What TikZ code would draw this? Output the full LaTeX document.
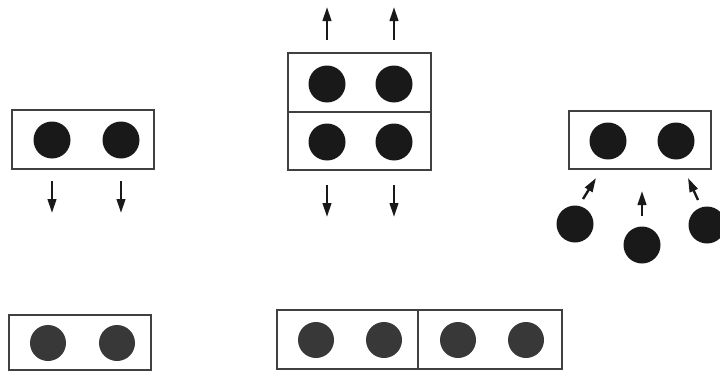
\documentclass[tikz,border=0pt]{standalone}
\usepackage{color}
\usepackage{tikz}
\usetikzlibrary{arrows.meta}
\definecolor{inkdark}{gray}{0.1}
\definecolor{inklight}{gray}{0.22}
\definecolor{boxline}{gray}{0.25}
\tikzset{
  particle/.style={circle,fill=inkdark,minimum size=37pt,inner sep=0pt},
  oldparticle/.style={particle,fill=inklight,minimum size=36pt},
  cell/.style={draw=boxline,line width=1.1pt},
  move/.style={draw=black!90,line width=2.4pt,-{Triangle[length=14pt,width=8.5pt]}}
}
\begin{document}
\begin{tikzpicture}[x=1pt,y=-1pt]
\useasboundingbox (0,0) rectangle (720,372);
% objects at depth 100:
\path[cell] (12,110) rectangle (154,169);
\path[cell] (288,53) rectangle (431,112);
\path[cell] (288,112) rectangle (431,170);
\path[cell] (569,111) rectangle (711,169);
\path[cell] (9,315) rectangle (151,370);
\path[cell] (277,310) rectangle (418,369);
\path[cell] (418,310) rectangle (562,369);
% objects at depth 50:
\node[particle] (a1) at (52,140) {};
\node[particle] (a2) at (121,140) {};
\node[particle] (b1) at (327,84) {};
\node[particle] (b2) at (394,84) {};
\node[particle] (b3) at (327,142) {};
\node[particle] (b4) at (394,142) {};
\node[particle] (c1) at (608,141) {};
\node[particle] (c2) at (676,141) {};
\node[particle] (c3) at (575,224) {};
\node[particle] (c4) at (642,245) {};
\node[particle] (c5) at (707,225) {};
\node[oldparticle] (d1) at (48,343) {};
\node[oldparticle] (d2) at (117,343) {};
\node[oldparticle] (e1) at (316,340) {};
\node[oldparticle] (e2) at (384,340) {};
\node[oldparticle] (e3) at (458,340) {};
\node[oldparticle] (e4) at (526,340) {};
% objects at depth 0:
\coordinate (a1s) at (52,181);  \coordinate (a1e) at (52,213);
\coordinate (a2s) at (121,181); \coordinate (a2e) at (121,213);
\coordinate (b1s) at (327,40);  \coordinate (b1e) at (327,7);
\coordinate (b2s) at (394,40);  \coordinate (b2e) at (394,7);
\coordinate (b3s) at (327,185); \coordinate (b3e) at (327,217);
\coordinate (b4s) at (394,185); \coordinate (b4e) at (394,217);
\coordinate (c3s) at (583,199); \coordinate (c3e) at (596,178);
\coordinate (c4s) at (642,216); \coordinate (c4e) at (642,191);
\coordinate (c5s) at (698,200); \coordinate (c5e) at (688,178);
\draw[move] (a1s) -- (a1e);
\draw[move] (a2s) -- (a2e);
\draw[move] (b1s) -- (b1e);
\draw[move] (b2s) -- (b2e);
\draw[move] (b3s) -- (b3e);
\draw[move] (b4s) -- (b4e);
\draw[move] (c3s) -- (c3e);
\draw[move] (c4s) -- (c4e);
\draw[move] (c5s) -- (c5e);
\end{tikzpicture}
\end{document}
